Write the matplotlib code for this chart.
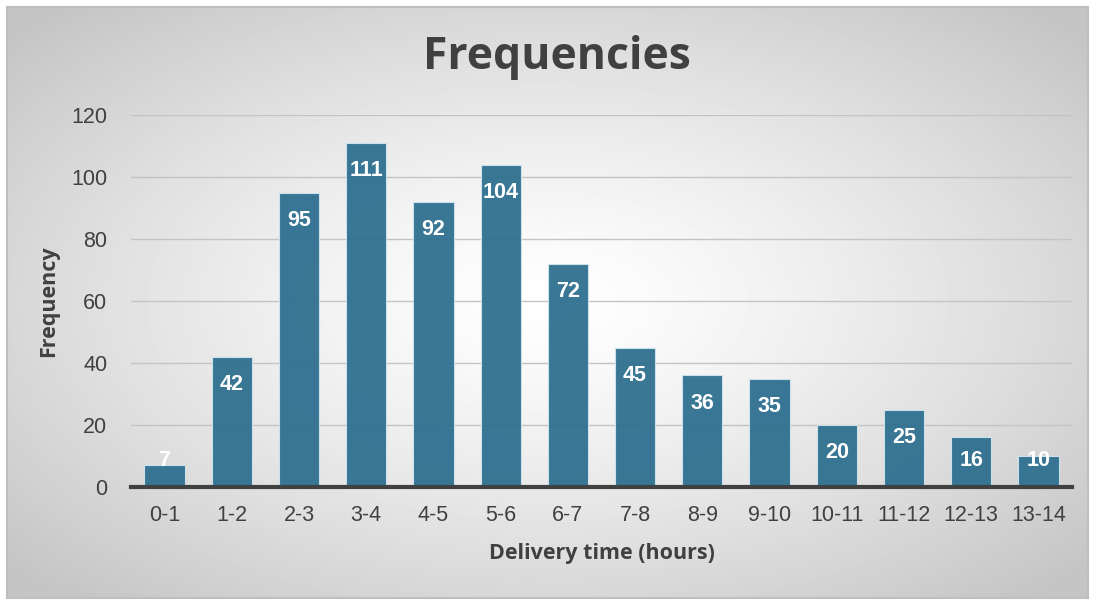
import numpy as np
import matplotlib.pyplot as plt

# Delivery time bins and counts
bins = ["0-1", "1-2", "2-3", "3-4", "4-5", "5-6", "6-7", "7-8",
        "8-9", "9-10", "10-11", "11-12", "12-13", "13-14"]
counts = [7, 42, 95, 111, 92, 104, 72, 45, 36, 35, 20, 25, 16, 10]

bar_color = "#2f7090"
text_color = "#404040"

fig = plt.figure(figsize=(10.95, 6.03), dpi=100)

# radial grey gradient behind the chart
bg = fig.add_axes([0.0064, 0.0083, 0.987, 0.98])
yy, xx = np.mgrid[-1:1:300j, -1:1:550j]
r = np.sqrt(xx ** 2 + yy ** 2)
shade = 1.0 - 0.23 * np.clip(r / 1.35, 0, 1) ** 1.3
bg.imshow(shade, cmap="gray", vmin=0, vmax=1, aspect="auto", extent=[0, 1, 0, 1])
bg.set_xticks([])
bg.set_yticks([])
for s in bg.spines.values():
    s.set_color("#bfbfbf")
    s.set_linewidth(1.5)

ax = fig.add_axes([131 / 1095, 1 - 487 / 603, 941 / 1095, 372 / 603])
ax.patch.set_alpha(0)

x = np.arange(len(bins))
ax.bar(x, counts, width=0.6, color=bar_color, alpha=0.95,
       edgecolor="#d0e4ee", linewidth=0.8, zorder=2)

# value labels just inside the top of each bar
for xi, v in zip(x, counts):
    ypos = max(v - 9.0, 8.7)
    ax.text(xi, ypos, str(v), ha="center", va="center", color="white",
            fontsize=15.5, fontweight="bold", family="Liberation Sans", zorder=3)

ax.set_xlim(-0.5, len(bins) - 0.5)
ax.set_ylim(0, 120)
ax.set_yticks(range(0, 121, 20))
ax.set_xticks(x)
ax.set_xticklabels(bins)
ax.grid(axis="y", color="#c4c4c4", linewidth=1, zorder=0)
ax.set_axisbelow(True)

for side in ["top", "right", "left"]:
    ax.spines[side].set_visible(False)
ax.spines["bottom"].set_color(text_color)
ax.spines["bottom"].set_linewidth(3)
ax.spines["bottom"].set_zorder(4)

ax.tick_params(axis="both", length=0, labelsize=15.5, labelcolor=text_color,
               labelfontfamily="Liberation Sans")
ax.tick_params(axis="y", pad=17)
ax.tick_params(axis="x", pad=13)

ax.set_xlabel("Delivery time (hours)", fontsize=15.5, fontweight="bold",
              color=text_color, family="Open Sans", labelpad=12)
ax.set_ylabel("Frequency", fontsize=15.5, fontweight="bold",
              color=text_color, family="Open Sans", labelpad=9)

fig.text(0.509, 0.905, "Frequencies", ha="center", va="center", fontsize=32,
         fontweight="bold", color=text_color, family="Open Sans")

fig.savefig("out.png", dpi=100)
